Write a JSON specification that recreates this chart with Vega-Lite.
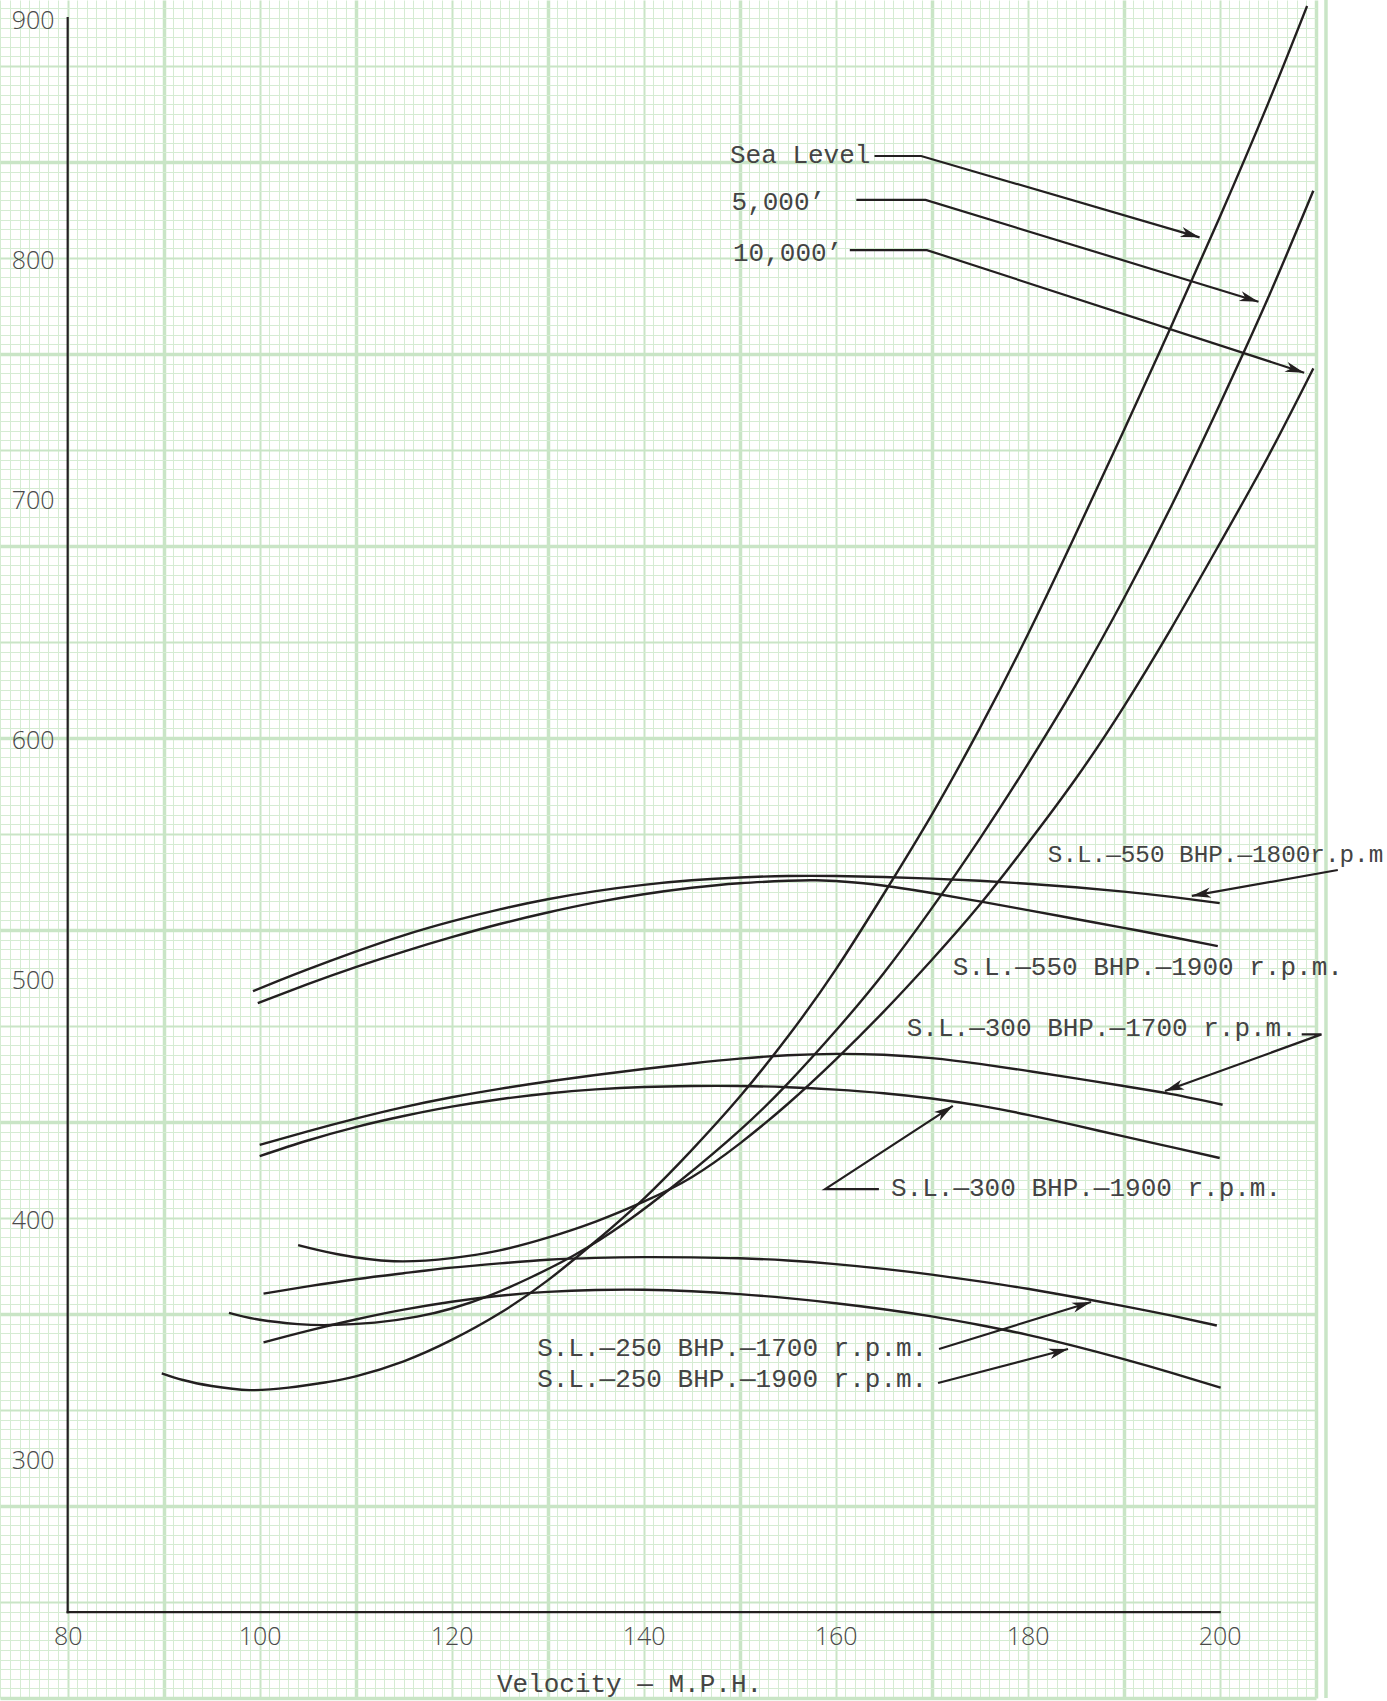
{
  "$schema": "https://vega.github.io/schema/vega-lite/v6.json",
  "width": 1316,
  "height": 1698,
  "autosize": {"type": "none"},
  "padding": {"left": 0, "top": 0, "right": 71, "bottom": 3},
  "background": "#ffffff",
  "config": {"view": {"stroke": null}},
  "resolve": {"axis": {"x": "independent", "y": "independent"}},
  "datasets": {
    "curves": [
      {"curve": "Sea Level", "mph": 89.8, "bhp": 335.3},
      {"curve": "Sea Level", "mph": 92, "bhp": 332.5},
      {"curve": "Sea Level", "mph": 95, "bhp": 330},
      {"curve": "Sea Level", "mph": 99, "bhp": 328.3},
      {"curve": "Sea Level", "mph": 103, "bhp": 329.3},
      {"curve": "Sea Level", "mph": 107, "bhp": 331.6},
      {"curve": "Sea Level", "mph": 110, "bhp": 334},
      {"curve": "Sea Level", "mph": 115, "bhp": 340.3},
      {"curve": "Sea Level", "mph": 120, "bhp": 349.2},
      {"curve": "Sea Level", "mph": 125, "bhp": 360.3},
      {"curve": "Sea Level", "mph": 130, "bhp": 374},
      {"curve": "Sea Level", "mph": 135, "bhp": 390.3},
      {"curve": "Sea Level", "mph": 140, "bhp": 408},
      {"curve": "Sea Level", "mph": 145, "bhp": 428.3},
      {"curve": "Sea Level", "mph": 150, "bhp": 450.5},
      {"curve": "Sea Level", "mph": 155, "bhp": 475.5},
      {"curve": "Sea Level", "mph": 160, "bhp": 503.5},
      {"curve": "Sea Level", "mph": 165, "bhp": 535},
      {"curve": "Sea Level", "mph": 170, "bhp": 568},
      {"curve": "Sea Level", "mph": 175, "bhp": 604},
      {"curve": "Sea Level", "mph": 180, "bhp": 643},
      {"curve": "Sea Level", "mph": 185, "bhp": 685},
      {"curve": "Sea Level", "mph": 190, "bhp": 728},
      {"curve": "Sea Level", "mph": 195, "bhp": 772},
      {"curve": "Sea Level", "mph": 200, "bhp": 817},
      {"curve": "Sea Level", "mph": 205, "bhp": 864},
      {"curve": "Sea Level", "mph": 209.1, "bhp": 905},

      {"curve": "5,000'", "mph": 96.8, "bhp": 360.5},
      {"curve": "5,000'", "mph": 100, "bhp": 357.6},
      {"curve": "5,000'", "mph": 104, "bhp": 355.8},
      {"curve": "5,000'", "mph": 107.3, "bhp": 355.4},
      {"curve": "5,000'", "mph": 112, "bhp": 356.4},
      {"curve": "5,000'", "mph": 116.4, "bhp": 358.9},
      {"curve": "5,000'", "mph": 120, "bhp": 362.3},
      {"curve": "5,000'", "mph": 124, "bhp": 367.8},
      {"curve": "5,000'", "mph": 128, "bhp": 374.8},
      {"curve": "5,000'", "mph": 132.8, "bhp": 384.6},
      {"curve": "5,000'", "mph": 138, "bhp": 397.8},
      {"curve": "5,000'", "mph": 143.8, "bhp": 415.5},
      {"curve": "5,000'", "mph": 150, "bhp": 436.5},
      {"curve": "5,000'", "mph": 155, "bhp": 456},
      {"curve": "5,000'", "mph": 160, "bhp": 478},
      {"curve": "5,000'", "mph": 165, "bhp": 502},
      {"curve": "5,000'", "mph": 170, "bhp": 529},
      {"curve": "5,000'", "mph": 175, "bhp": 558},
      {"curve": "5,000'", "mph": 180, "bhp": 589},
      {"curve": "5,000'", "mph": 185, "bhp": 622},
      {"curve": "5,000'", "mph": 190, "bhp": 658},
      {"curve": "5,000'", "mph": 195, "bhp": 697},
      {"curve": "5,000'", "mph": 200, "bhp": 739},
      {"curve": "5,000'", "mph": 205, "bhp": 783},
      {"curve": "5,000'", "mph": 209.75, "bhp": 828},

      {"curve": "10,000'", "mph": 104, "bhp": 388.7},
      {"curve": "10,000'", "mph": 108, "bhp": 385},
      {"curve": "10,000'", "mph": 114, "bhp": 382},
      {"curve": "10,000'", "mph": 120, "bhp": 383.3},
      {"curve": "10,000'", "mph": 125, "bhp": 386.5},
      {"curve": "10,000'", "mph": 130, "bhp": 391.8},
      {"curve": "10,000'", "mph": 135, "bhp": 398.5},
      {"curve": "10,000'", "mph": 140, "bhp": 406.8},
      {"curve": "10,000'", "mph": 145, "bhp": 417},
      {"curve": "10,000'", "mph": 150, "bhp": 431},
      {"curve": "10,000'", "mph": 155, "bhp": 447.5},
      {"curve": "10,000'", "mph": 160, "bhp": 466},
      {"curve": "10,000'", "mph": 165, "bhp": 486},
      {"curve": "10,000'", "mph": 170, "bhp": 507.5},
      {"curve": "10,000'", "mph": 175, "bhp": 530.5},
      {"curve": "10,000'", "mph": 180, "bhp": 556},
      {"curve": "10,000'", "mph": 185, "bhp": 583},
      {"curve": "10,000'", "mph": 190, "bhp": 613},
      {"curve": "10,000'", "mph": 195, "bhp": 646},
      {"curve": "10,000'", "mph": 200, "bhp": 681},
      {"curve": "10,000'", "mph": 205, "bhp": 717},
      {"curve": "10,000'", "mph": 209.75, "bhp": 754},

      {"curve": "550 BHP 1800", "mph": 99.3, "bhp": 494.5},
      {"curve": "550 BHP 1800", "mph": 102, "bhp": 498.9},
      {"curve": "550 BHP 1800", "mph": 105, "bhp": 503.6},
      {"curve": "550 BHP 1800", "mph": 110, "bhp": 511},
      {"curve": "550 BHP 1800", "mph": 115, "bhp": 517.8},
      {"curve": "550 BHP 1800", "mph": 120, "bhp": 523.6},
      {"curve": "550 BHP 1800", "mph": 125, "bhp": 528.6},
      {"curve": "550 BHP 1800", "mph": 130, "bhp": 532.8},
      {"curve": "550 BHP 1800", "mph": 135, "bhp": 536.2},
      {"curve": "550 BHP 1800", "mph": 140, "bhp": 538.8},
      {"curve": "550 BHP 1800", "mph": 145, "bhp": 540.7},
      {"curve": "550 BHP 1800", "mph": 150, "bhp": 541.9},
      {"curve": "550 BHP 1800", "mph": 155, "bhp": 542.5},
      {"curve": "550 BHP 1800", "mph": 160, "bhp": 542.5},
      {"curve": "550 BHP 1800", "mph": 165, "bhp": 542.1},
      {"curve": "550 BHP 1800", "mph": 170, "bhp": 541.4},
      {"curve": "550 BHP 1800", "mph": 175, "bhp": 540.5},
      {"curve": "550 BHP 1800", "mph": 180, "bhp": 539.3},
      {"curve": "550 BHP 1800", "mph": 185, "bhp": 537.8},
      {"curve": "550 BHP 1800", "mph": 190, "bhp": 536},
      {"curve": "550 BHP 1800", "mph": 195, "bhp": 533.8},
      {"curve": "550 BHP 1800", "mph": 200, "bhp": 531.2},

      {"curve": "550 BHP 1900", "mph": 99.8, "bhp": 489.5},
      {"curve": "550 BHP 1900", "mph": 105, "bhp": 497.4},
      {"curve": "550 BHP 1900", "mph": 110, "bhp": 504.5},
      {"curve": "550 BHP 1900", "mph": 115, "bhp": 511},
      {"curve": "550 BHP 1900", "mph": 120, "bhp": 517},
      {"curve": "550 BHP 1900", "mph": 125, "bhp": 522.5},
      {"curve": "550 BHP 1900", "mph": 130, "bhp": 527.3},
      {"curve": "550 BHP 1900", "mph": 135, "bhp": 531.5},
      {"curve": "550 BHP 1900", "mph": 140, "bhp": 534.9},
      {"curve": "550 BHP 1900", "mph": 145, "bhp": 537.6},
      {"curve": "550 BHP 1900", "mph": 150, "bhp": 539.5},
      {"curve": "550 BHP 1900", "mph": 155, "bhp": 540.5},
      {"curve": "550 BHP 1900", "mph": 158, "bhp": 540.7},
      {"curve": "550 BHP 1900", "mph": 162, "bhp": 539.8},
      {"curve": "550 BHP 1900", "mph": 166, "bhp": 537.9},
      {"curve": "550 BHP 1900", "mph": 170, "bhp": 535.4},
      {"curve": "550 BHP 1900", "mph": 175, "bhp": 531.9},
      {"curve": "550 BHP 1900", "mph": 180, "bhp": 528.3},
      {"curve": "550 BHP 1900", "mph": 185, "bhp": 524.6},
      {"curve": "550 BHP 1900", "mph": 190, "bhp": 520.9},
      {"curve": "550 BHP 1900", "mph": 195, "bhp": 517.1},
      {"curve": "550 BHP 1900", "mph": 199.8, "bhp": 513.3},

      {"curve": "300 BHP 1700", "mph": 100, "bhp": 430.5},
      {"curve": "300 BHP 1700", "mph": 105, "bhp": 436.1},
      {"curve": "300 BHP 1700", "mph": 110, "bhp": 441.4},
      {"curve": "300 BHP 1700", "mph": 115, "bhp": 446.2},
      {"curve": "300 BHP 1700", "mph": 120, "bhp": 450.3},
      {"curve": "300 BHP 1700", "mph": 125, "bhp": 453.8},
      {"curve": "300 BHP 1700", "mph": 130, "bhp": 456.9},
      {"curve": "300 BHP 1700", "mph": 135, "bhp": 459.6},
      {"curve": "300 BHP 1700", "mph": 140, "bhp": 462.1},
      {"curve": "300 BHP 1700", "mph": 145, "bhp": 464.4},
      {"curve": "300 BHP 1700", "mph": 150, "bhp": 466.4},
      {"curve": "300 BHP 1700", "mph": 155, "bhp": 467.8},
      {"curve": "300 BHP 1700", "mph": 160, "bhp": 468.4},
      {"curve": "300 BHP 1700", "mph": 165, "bhp": 468},
      {"curve": "300 BHP 1700", "mph": 170, "bhp": 466.6},
      {"curve": "300 BHP 1700", "mph": 175, "bhp": 464.2},
      {"curve": "300 BHP 1700", "mph": 180, "bhp": 461.3},
      {"curve": "300 BHP 1700", "mph": 185, "bhp": 458.2},
      {"curve": "300 BHP 1700", "mph": 190, "bhp": 455},
      {"curve": "300 BHP 1700", "mph": 195, "bhp": 451.6},
      {"curve": "300 BHP 1700", "mph": 200.3, "bhp": 447.2},

      {"curve": "300 BHP 1900", "mph": 100, "bhp": 425.8},
      {"curve": "300 BHP 1900", "mph": 105, "bhp": 432.3},
      {"curve": "300 BHP 1900", "mph": 110, "bhp": 437.9},
      {"curve": "300 BHP 1900", "mph": 115, "bhp": 442.5},
      {"curve": "300 BHP 1900", "mph": 120, "bhp": 446.4},
      {"curve": "300 BHP 1900", "mph": 125, "bhp": 449.5},
      {"curve": "300 BHP 1900", "mph": 130, "bhp": 451.9},
      {"curve": "300 BHP 1900", "mph": 135, "bhp": 453.6},
      {"curve": "300 BHP 1900", "mph": 140, "bhp": 454.6},
      {"curve": "300 BHP 1900", "mph": 145, "bhp": 455},
      {"curve": "300 BHP 1900", "mph": 150, "bhp": 455},
      {"curve": "300 BHP 1900", "mph": 155, "bhp": 454.5},
      {"curve": "300 BHP 1900", "mph": 160, "bhp": 453.5},
      {"curve": "300 BHP 1900", "mph": 165, "bhp": 452},
      {"curve": "300 BHP 1900", "mph": 170, "bhp": 449.8},
      {"curve": "300 BHP 1900", "mph": 175, "bhp": 446.8},
      {"curve": "300 BHP 1900", "mph": 180, "bhp": 443},
      {"curve": "300 BHP 1900", "mph": 185, "bhp": 438.6},
      {"curve": "300 BHP 1900", "mph": 190, "bhp": 434},
      {"curve": "300 BHP 1900", "mph": 195, "bhp": 429.5},
      {"curve": "300 BHP 1900", "mph": 200, "bhp": 425},

      {"curve": "250 BHP 1700", "mph": 100.4, "bhp": 368.5},
      {"curve": "250 BHP 1700", "mph": 105, "bhp": 371.5},
      {"curve": "250 BHP 1700", "mph": 110, "bhp": 374.5},
      {"curve": "250 BHP 1700", "mph": 115, "bhp": 377},
      {"curve": "250 BHP 1700", "mph": 120, "bhp": 379.3},
      {"curve": "250 BHP 1700", "mph": 125, "bhp": 381.1},
      {"curve": "250 BHP 1700", "mph": 130, "bhp": 382.6},
      {"curve": "250 BHP 1700", "mph": 135, "bhp": 383.4},
      {"curve": "250 BHP 1700", "mph": 140, "bhp": 383.7},
      {"curve": "250 BHP 1700", "mph": 145, "bhp": 383.6},
      {"curve": "250 BHP 1700", "mph": 150, "bhp": 383.2},
      {"curve": "250 BHP 1700", "mph": 155, "bhp": 382.3},
      {"curve": "250 BHP 1700", "mph": 160, "bhp": 380.8},
      {"curve": "250 BHP 1700", "mph": 165, "bhp": 378.8},
      {"curve": "250 BHP 1700", "mph": 170, "bhp": 376.4},
      {"curve": "250 BHP 1700", "mph": 175, "bhp": 373.6},
      {"curve": "250 BHP 1700", "mph": 180, "bhp": 370.5},
      {"curve": "250 BHP 1700", "mph": 185, "bhp": 367},
      {"curve": "250 BHP 1700", "mph": 190, "bhp": 363.3},
      {"curve": "250 BHP 1700", "mph": 195, "bhp": 359.3},
      {"curve": "250 BHP 1700", "mph": 199.7, "bhp": 355.2},

      {"curve": "250 BHP 1900", "mph": 100.4, "bhp": 348.2},
      {"curve": "250 BHP 1900", "mph": 105, "bhp": 353},
      {"curve": "250 BHP 1900", "mph": 110, "bhp": 357.7},
      {"curve": "250 BHP 1900", "mph": 115, "bhp": 361.8},
      {"curve": "250 BHP 1900", "mph": 120, "bhp": 365.1},
      {"curve": "250 BHP 1900", "mph": 125, "bhp": 367.6},
      {"curve": "250 BHP 1900", "mph": 130, "bhp": 369.2},
      {"curve": "250 BHP 1900", "mph": 135, "bhp": 370},
      {"curve": "250 BHP 1900", "mph": 140, "bhp": 370.1},
      {"curve": "250 BHP 1900", "mph": 145, "bhp": 369.5},
      {"curve": "250 BHP 1900", "mph": 150, "bhp": 368.3},
      {"curve": "250 BHP 1900", "mph": 155, "bhp": 366.6},
      {"curve": "250 BHP 1900", "mph": 160, "bhp": 364.5},
      {"curve": "250 BHP 1900", "mph": 165, "bhp": 362},
      {"curve": "250 BHP 1900", "mph": 170, "bhp": 359},
      {"curve": "250 BHP 1900", "mph": 175, "bhp": 355.4},
      {"curve": "250 BHP 1900", "mph": 180, "bhp": 351.3},
      {"curve": "250 BHP 1900", "mph": 185, "bhp": 346.5},
      {"curve": "250 BHP 1900", "mph": 190, "bhp": 341.2},
      {"curve": "250 BHP 1900", "mph": 195, "bhp": 335.5},
      {"curve": "250 BHP 1900", "mph": 200.1, "bhp": 329.3}
    ],
    "frame": [
      {"mph": 80, "bhp": 235.8, "mph2": 80, "bhp2": 900},
      {"mph": 80, "bhp": 235.8, "mph2": 200, "bhp2": 235.8}
    ],
    "leaders": [
      {"leader": "sl", "seq": 1, "part": "start", "mph": 164.04, "bhp": 842.5},
      {"leader": "sl", "seq": 2, "part": "bend", "mph": 168.9, "bhp": 842.5},
      {"leader": "sl", "seq": 3, "part": "tip", "mph": 197.9, "bhp": 808.6},
      {"leader": "5k", "seq": 1, "part": "start", "mph": 162.15, "bhp": 824.2},
      {"leader": "5k", "seq": 2, "part": "bend", "mph": 169.36, "bhp": 824.2},
      {"leader": "5k", "seq": 3, "part": "tip", "mph": 204.04, "bhp": 781.8},
      {"leader": "10k", "seq": 1, "part": "start", "mph": 161.47, "bhp": 803.3},
      {"leader": "10k", "seq": 2, "part": "bend", "mph": 169.5, "bhp": 803.3},
      {"leader": "10k", "seq": 3, "part": "tip", "mph": 208.8, "bhp": 752.2},
      {"leader": "550-1800", "seq": 1, "part": "start", "mph": 212.3, "bhp": 545},
      {"leader": "550-1800", "seq": 2, "part": "tip", "mph": 197.1, "bhp": 534.2},
      {"leader": "300-1700", "seq": 1, "part": "start", "mph": 208.54, "bhp": 476.5},
      {"leader": "300-1700", "seq": 2, "part": "bend", "mph": 210.6, "bhp": 476.5},
      {"leader": "300-1700", "seq": 3, "part": "tip", "mph": 194.3, "bhp": 452.9},
      {"leader": "300-1900", "seq": 1, "part": "start", "mph": 164.5, "bhp": 412},
      {"leader": "300-1900", "seq": 2, "part": "bend", "mph": 158.9, "bhp": 412},
      {"leader": "300-1900", "seq": 3, "part": "tip", "mph": 172.2, "bhp": 446.7},
      {"leader": "250-1700", "seq": 1, "part": "start", "mph": 170.76, "bhp": 345.4},
      {"leader": "250-1700", "seq": 2, "part": "tip", "mph": 186.6, "bhp": 365},
      {"leader": "250-1900", "seq": 1, "part": "start", "mph": 170.66, "bhp": 331.25},
      {"leader": "250-1900", "seq": 2, "part": "tip", "mph": 184.2, "bhp": 345.4}
    ],
    "notes": [
      {"note": "Sea Level", "group": "altitude", "mph": 148.99, "bhp": 842.9},
      {"note": "5,000’", "group": "altitude", "mph": 149.15, "bhp": 823.5},
      {"note": "10,000’", "group": "altitude", "mph": 149.3, "bhp": 802.2},
      {"note": "S.L.—550 BHP.—1800r.p.m", "group": "edge", "mph": 182.1, "bhp": 551.25},
      {"note": "S.L.—550 BHP.—1900 r.p.m.", "group": "engine", "mph": 172.2, "bhp": 504.6},
      {"note": "S.L.—300 BHP.—1700 r.p.m.", "group": "engine", "mph": 167.4, "bhp": 479.2},
      {"note": "S.L.—300 BHP.—1900 r.p.m.", "group": "engine", "mph": 165.76, "bhp": 412.5},
      {"note": "S.L.—250 BHP.—1700 r.p.m.", "group": "engine", "mph": 128.9, "bhp": 345.8},
      {"note": "S.L.—250 BHP.—1900 r.p.m.", "group": "engine", "mph": 128.9, "bhp": 332.9}
    ]
  },
  "layer": [
    {
      "description": "Edge strip of the graph paper",
      "data": {"values": [{}]},
      "mark": {"type": "rule", "color": "#c9e5c6", "strokeWidth": 3.5},
      "encoding": {
        "x": {"datum": 211.07, "type": "quantitative", "scale": {"domain": [72.95, 210.03], "nice": false, "zero": false}, "axis": null},
        "y": {"datum": 200, "type": "quantitative", "scale": {"domain": [200, 907.5], "nice": false, "zero": false}, "axis": null},
        "y2": {"datum": 907.5}
      }
    },
    {
      "description": "Performance curves, carrying the graph-paper grid",
      "data": {"name": "curves"},
      "mark": {"type": "line", "interpolate": "natural", "color": "#231f20", "strokeWidth": 2.4},
      "encoding": {
        "detail": {"field": "curve"},
        "x": {
          "field": "mph", "type": "quantitative",
          "scale": {"domain": [72.95, 210.03], "nice": false, "zero": false},
          "axis": {
            "orient": "bottom", "grid": true, "domain": false, "ticks": false, "labels": false, "title": null,
            "values": [73,74,75,76,77,78,79,80,81,82,83,84,85,86,87,88,89,90,91,92,93,94,95,96,97,98,99,100,101,102,103,104,105,106,107,108,109,110,111,112,113,114,115,116,117,118,119,120,121,122,123,124,125,126,127,128,129,130,131,132,133,134,135,136,137,138,139,140,141,142,143,144,145,146,147,148,149,150,151,152,153,154,155,156,157,158,159,160,161,162,163,164,165,166,167,168,169,170,171,172,173,174,175,176,177,178,179,180,181,182,183,184,185,186,187,188,189,190,191,192,193,194,195,196,197,198,199,200,201,202,203,204,205,206,207,208,209,210],
            "gridColor": {"condition": {"test": "datum.value % 10 === 0", "value": "#c9e5c6"}, "value": "#d5ecd3"},
            "gridWidth": {"condition": [{"test": "datum.value % 20 === 10", "value": 3.5}, {"test": "datum.value % 20 === 0", "value": 2}], "value": 1}
          }
        },
        "y": {
          "field": "bhp", "type": "quantitative",
          "scale": {"domain": [200, 907.5], "nice": false, "zero": false},
          "axis": {
            "orient": "left", "grid": true, "domain": false, "ticks": false, "labels": false, "title": null,
            "values": [200,204,208,212,216,220,224,228,232,236,240,244,248,252,256,260,264,268,272,276,280,284,288,292,296,300,304,308,312,316,320,324,328,332,336,340,344,348,352,356,360,364,368,372,376,380,384,388,392,396,400,404,408,412,416,420,424,428,432,436,440,444,448,452,456,460,464,468,472,476,480,484,488,492,496,500,504,508,512,516,520,524,528,532,536,540,544,548,552,556,560,564,568,572,576,580,584,588,592,596,600,604,608,612,616,620,624,628,632,636,640,644,648,652,656,660,664,668,672,676,680,684,688,692,696,700,704,708,712,716,720,724,728,732,736,740,744,748,752,756,760,764,768,772,776,780,784,788,792,796,800,804,808,812,816,820,824,828,832,836,840,844,848,852,856,860,864,868,872,876,880,884,888,892,896,900,904],
            "gridColor": {"condition": {"test": "datum.value % 40 === 0", "value": "#c9e5c6"}, "value": "#d5ecd3"},
            "gridWidth": {"condition": [{"test": "datum.value % 80 === 40", "value": 3.5}, {"test": "datum.value % 80 === 0", "value": 2}], "value": 1}
          }
        }
      }
    },
    {
      "description": "Black axis lines, carrying the tick labels",
      "data": {"name": "frame"},
      "mark": {"type": "rule", "color": "#231f20", "strokeWidth": 2.2, "strokeCap": "square"},
      "encoding": {
        "x": {
          "field": "mph", "type": "quantitative",
          "scale": {"domain": [72.95, 210.03], "nice": false, "zero": false},
          "axis": {
            "orient": "bottom", "offset": -86, "grid": false, "domain": false, "ticks": false, "tickSize": 0,
            "values": [80, 100, 120, 140, 160, 180, 200],
            "labelFont": "Open Sans", "labelFontSize": 25, "labelFontWeight": 300, "labelColor": "#4a4a4a",
            "labelBaseline": "top", "labelPadding": 12, "labelOverlap": false, "labelFlush": false,
            "title": "Velocity — M.P.H.", "titleFont": "Liberation Mono", "titleFontSize": 26, "titleFontWeight": "normal",
            "titleColor": "#444444", "titleX": 629, "titleY": 71, "titleBaseline": "middle", "titleAlign": "center"
          }
        },
        "x2": {"field": "mph2"},
        "y": {
          "field": "bhp", "type": "quantitative",
          "scale": {"domain": [200, 907.5], "nice": false, "zero": false},
          "axis": {
            "orient": "left", "offset": -54, "grid": false, "domain": false, "ticks": false, "tickSize": 0,
            "values": [300, 400, 500, 600, 700, 800, 900],
            "labelFont": "Open Sans", "labelFontSize": 25, "labelFontWeight": 300, "labelColor": "#4a4a4a",
            "labelPadding": 0, "labelOffset": 2, "labelOverlap": false, "labelFlush": false, "title": null
          }
        },
        "y2": {"field": "bhp2"}
      }
    },
    {
      "description": "Leader lines from the notes to the curves",
      "data": {"name": "leaders"},
      "mark": {"type": "line", "color": "#231f20", "strokeWidth": 2.2},
      "encoding": {
        "detail": {"field": "leader"},
        "order": {"field": "seq"},
        "x": {"field": "mph", "type": "quantitative", "scale": {"domain": [72.95, 210.03], "nice": false, "zero": false}, "axis": null},
        "y": {"field": "bhp", "type": "quantitative", "scale": {"domain": [200, 907.5], "nice": false, "zero": false}, "axis": null}
      }
    },
    {
      "data": {"name": "leaders"},
      "transform": [{"filter": "datum.leader === 'sl' && datum.part === 'tip'"}],
      "mark": {"type": "point", "shape": "M0,0L-2,-0.55L-1.45,0L-2,0.55Z", "filled": true, "color": "#231f20", "opacity": 1, "size": 361, "angle": 16.3},
      "encoding": {
        "x": {"field": "mph", "type": "quantitative", "scale": {"domain": [72.95, 210.03], "nice": false, "zero": false}, "axis": null},
        "y": {"field": "bhp", "type": "quantitative", "scale": {"domain": [200, 907.5], "nice": false, "zero": false}, "axis": null}
      }
    },
    {
      "data": {"name": "leaders"},
      "transform": [{"filter": "datum.leader === '5k' && datum.part === 'tip'"}],
      "mark": {"type": "point", "shape": "M0,0L-2,-0.55L-1.45,0L-2,0.55Z", "filled": true, "color": "#231f20", "opacity": 1, "size": 361, "angle": 17.0},
      "encoding": {
        "x": {"field": "mph", "type": "quantitative", "scale": {"domain": [72.95, 210.03], "nice": false, "zero": false}, "axis": null},
        "y": {"field": "bhp", "type": "quantitative", "scale": {"domain": [200, 907.5], "nice": false, "zero": false}, "axis": null}
      }
    },
    {
      "data": {"name": "leaders"},
      "transform": [{"filter": "datum.leader === '10k' && datum.part === 'tip'"}],
      "mark": {"type": "point", "shape": "M0,0L-2,-0.55L-1.45,0L-2,0.55Z", "filled": true, "color": "#231f20", "opacity": 1, "size": 361, "angle": 18.0},
      "encoding": {
        "x": {"field": "mph", "type": "quantitative", "scale": {"domain": [72.95, 210.03], "nice": false, "zero": false}, "axis": null},
        "y": {"field": "bhp", "type": "quantitative", "scale": {"domain": [200, 907.5], "nice": false, "zero": false}, "axis": null}
      }
    },
    {
      "data": {"name": "leaders"},
      "transform": [{"filter": "datum.leader === '550-1800' && datum.part === 'tip'"}],
      "mark": {"type": "point", "shape": "M0,0L-2,-0.55L-1.45,0L-2,0.55Z", "filled": true, "color": "#231f20", "opacity": 1, "size": 361, "angle": 169.9},
      "encoding": {
        "x": {"field": "mph", "type": "quantitative", "scale": {"domain": [72.95, 210.03], "nice": false, "zero": false}, "axis": null},
        "y": {"field": "bhp", "type": "quantitative", "scale": {"domain": [200, 907.5], "nice": false, "zero": false}, "axis": null}
      }
    },
    {
      "data": {"name": "leaders"},
      "transform": [{"filter": "datum.leader === '300-1700' && datum.part === 'tip'"}],
      "mark": {"type": "point", "shape": "M0,0L-2,-0.55L-1.45,0L-2,0.55Z", "filled": true, "color": "#231f20", "opacity": 1, "size": 361, "angle": 160.0},
      "encoding": {
        "x": {"field": "mph", "type": "quantitative", "scale": {"domain": [72.95, 210.03], "nice": false, "zero": false}, "axis": null},
        "y": {"field": "bhp", "type": "quantitative", "scale": {"domain": [200, 907.5], "nice": false, "zero": false}, "axis": null}
      }
    },
    {
      "data": {"name": "leaders"},
      "transform": [{"filter": "datum.leader === '300-1900' && datum.part === 'tip'"}],
      "mark": {"type": "point", "shape": "M0,0L-2,-0.55L-1.45,0L-2,0.55Z", "filled": true, "color": "#231f20", "opacity": 1, "size": 361, "angle": -33.1},
      "encoding": {
        "x": {"field": "mph", "type": "quantitative", "scale": {"domain": [72.95, 210.03], "nice": false, "zero": false}, "axis": null},
        "y": {"field": "bhp", "type": "quantitative", "scale": {"domain": [200, 907.5], "nice": false, "zero": false}, "axis": null}
      }
    },
    {
      "data": {"name": "leaders"},
      "transform": [{"filter": "datum.leader === '250-1700' && datum.part === 'tip'"}],
      "mark": {"type": "point", "shape": "M0,0L-2,-0.55L-1.45,0L-2,0.55Z", "filled": true, "color": "#231f20", "opacity": 1, "size": 361, "angle": -17.2},
      "encoding": {
        "x": {"field": "mph", "type": "quantitative", "scale": {"domain": [72.95, 210.03], "nice": false, "zero": false}, "axis": null},
        "y": {"field": "bhp", "type": "quantitative", "scale": {"domain": [200, 907.5], "nice": false, "zero": false}, "axis": null}
      }
    },
    {
      "data": {"name": "leaders"},
      "transform": [{"filter": "datum.leader === '250-1900' && datum.part === 'tip'"}],
      "mark": {"type": "point", "shape": "M0,0L-2,-0.55L-1.45,0L-2,0.55Z", "filled": true, "color": "#231f20", "opacity": 1, "size": 361, "angle": -14.7},
      "encoding": {
        "x": {"field": "mph", "type": "quantitative", "scale": {"domain": [72.95, 210.03], "nice": false, "zero": false}, "axis": null},
        "y": {"field": "bhp", "type": "quantitative", "scale": {"domain": [200, 907.5], "nice": false, "zero": false}, "axis": null}
      }
    },
    {
      "description": "Curve notes",
      "data": {"name": "notes"},
      "transform": [{"filter": "datum.group !== 'edge'"}],
      "mark": {"type": "text", "align": "left", "baseline": "middle", "font": "Liberation Mono", "fontSize": 26, "color": "#444444"},
      "encoding": {
        "text": {"field": "note"},
        "x": {"field": "mph", "type": "quantitative", "scale": {"domain": [72.95, 210.03], "nice": false, "zero": false}, "axis": null},
        "y": {"field": "bhp", "type": "quantitative", "scale": {"domain": [200, 907.5], "nice": false, "zero": false}, "axis": null}
      }
    },
    {
      "description": "Note set tighter so it stays inside the sheet",
      "data": {"name": "notes"},
      "transform": [{"filter": "datum.group === 'edge'"}],
      "mark": {"type": "text", "align": "left", "baseline": "middle", "font": "Liberation Mono", "fontSize": 24.3, "color": "#444444"},
      "encoding": {
        "text": {"field": "note"},
        "x": {"field": "mph", "type": "quantitative", "scale": {"domain": [72.95, 210.03], "nice": false, "zero": false}, "axis": null},
        "y": {"field": "bhp", "type": "quantitative", "scale": {"domain": [200, 907.5], "nice": false, "zero": false}, "axis": null}
      }
    }
  ]
}
